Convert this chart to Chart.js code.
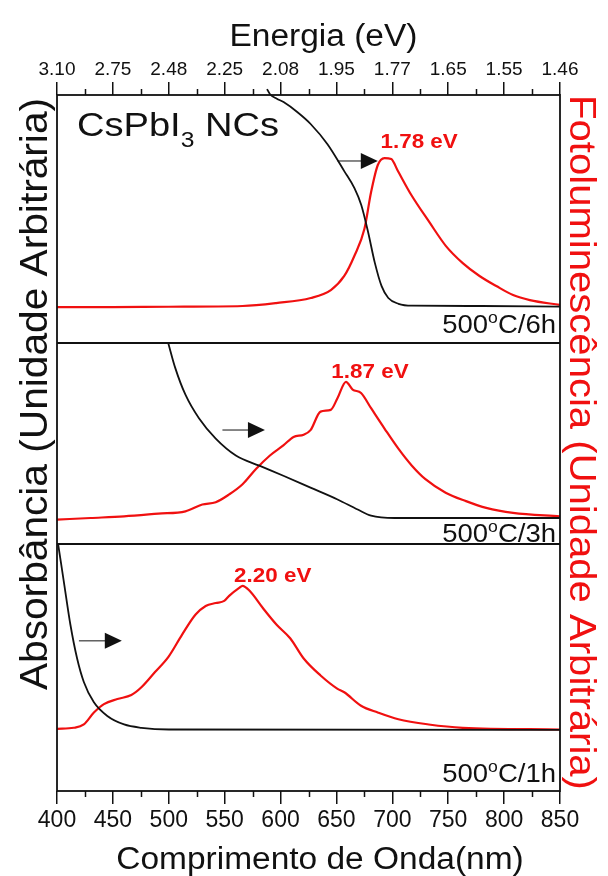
<!DOCTYPE html>
<html>
<head>
<meta charset="utf-8">
<script src="https://cdn.jsdelivr.net/npm/chart.js@4.4.1/dist/chart.umd.min.js"></script>
<style>
  html, body { margin: 0; padding: 0; background: #fff; }
  #wrap { width: 608px; height: 876px; }
</style>
</head>
<body>
<div id="wrap"><canvas id="spectra" width="608" height="876"></canvas></div>
<script>
// Wavelength ticks (nm) and the matching energy labels on the top axis (eV)
const wlTicks = [400, 450, 500, 550, 600, 650, 700, 750, 800, 850];
const energyLabels = ['3.10', '2.75', '2.48', '2.25', '2.08', '1.95', '1.77', '1.65', '1.55', '1.46'];

// 500 oC / 6h
const absWl6h = [587.9, 590.6, 596.7, 602.7, 614.9, 626.9, 642, 657.1, 666.1, 672.2, 678.3, 684.3, 690.4, 696.4, 705.5, 717.5, 780, 850];
const abs6h = [1.466, 1.431, 1.401, 1.378, 1.311, 1.23, 1.093, 0.91, 0.796, 0.682, 0.5, 0.293, 0.134, 0.054, 0.015, 0.002, 0, -0.004];
const plWl6h = [400, 450, 500, 566, 596, 627, 645, 657, 666, 675, 681, 687, 693, 699, 705, 717, 733, 748, 763, 778, 793, 808, 823, 850];
const pl6h = [-0.008, -0.007, -0.005, 0, 0.02, 0.054, 0.108, 0.203, 0.338, 0.52, 0.77, 0.953, 1.0, 0.993, 0.912, 0.75, 0.568, 0.405, 0.29, 0.203, 0.135, 0.074, 0.04, 0.007];

// 500 oC / 3h
const absWl3h = [499.5, 505.7, 514.9, 527, 542, 560, 581, 602.5, 626.8, 651, 669, 681, 702, 850];
const abs3h = [1.285, 1.104, 0.905, 0.732, 0.583, 0.459, 0.384, 0.31, 0.223, 0.136, 0.062, 0.017, 0, 0];
const plWl3h = [400, 430, 460, 490.6, 514.9, 530, 542, 554, 566, 578, 590.5, 602.5, 611.6, 620.7, 626.8, 635.8, 644.9, 651, 658.5, 664.5, 672, 681, 693, 705.4, 717.5, 729.6, 747.7, 765.9, 784, 808, 850];
const pl3h = [-0.012, 0, 0.012, 0.032, 0.049, 0.099, 0.116, 0.173, 0.248, 0.36, 0.459, 0.533, 0.595, 0.612, 0.645, 0.781, 0.794, 0.881, 1.0, 0.943, 0.918, 0.806, 0.657, 0.509, 0.384, 0.285, 0.186, 0.124, 0.074, 0.037, 0.012];

// 500 oC / 1h
const absWl1h = [401, 406, 412, 418, 424, 433, 445, 460, 475.5, 500, 850];
const abs1h = [1.29, 1.035, 0.729, 0.494, 0.331, 0.189, 0.094, 0.035, 0.012, 0, -0.003];
const plWl1h = [400, 415, 424, 433, 442, 454, 466.5, 475.5, 487.7, 499.7, 511.8, 524, 533, 542, 549.6, 554, 563, 566, 572.3, 584, 596.5, 608.6, 620.7, 635.8, 651, 657, 672, 687, 705.4, 732.6, 763, 850];
const pl1h = [0.005, 0.012, 0.035, 0.118, 0.177, 0.212, 0.24, 0.294, 0.4, 0.506, 0.659, 0.8, 0.86, 0.88, 0.895, 0.93, 0.985, 1.0, 0.965, 0.847, 0.729, 0.635, 0.494, 0.376, 0.283, 0.259, 0.165, 0.118, 0.071, 0.035, 0.012, 0];

const peakLabels = ['1.78 eV', '1.87 eV', '2.20 eV'];
const sampleTimes = ['6h', '3h', '1h'];

const SANS = "'Liberation Sans', Arial, sans-serif";
const RED = '#f01010';
const INK = '#111';

// one stacked y axis per panel, top to bottom
const panels = [
  { id: 'yTop', weight: 248, min: -0.25, max: 1.426, peakAt: [724, 1.068], arrow: [651, 687, 0.98], sampleY: -0.182 },
  { id: 'yMid', weight: 201, min: -0.191, max: 1.285, peakAt: [680, 1.028], arrow: [548, 586, 0.646], sampleY: -0.173 },
  { id: 'yBot', weight: 247, min: -0.428, max: 1.291, peakAt: [593, 1.024], arrow: [419.6, 458, 0.617], sampleY: -0.362 }
];

const toPoints = (xs, ys) => xs.map((x, i) => ({ x: x, y: ys[i] }));

function curve(xs, ys, color, width, axis, extra) {
  return Object.assign({
    data: toPoints(xs, ys),
    yAxisID: axis,
    borderColor: color,
    borderWidth: width,
    pointRadius: 0,
    cubicInterpolationMode: 'monotone',
    fill: false
  }, extra || {});
}

function drawText(ctx, str, x, y, o) {
  ctx.save();
  ctx.translate(x, y);
  if (o.rotate) ctx.rotate(o.rotate);
  ctx.scale(o.sx || 1, o.sy || 1);
  ctx.font = (o.bold ? 'bold ' : '') + o.size + 'px ' + SANS;
  ctx.fillStyle = o.color || INK;
  ctx.textAlign = o.align || 'left';
  ctx.textBaseline = 'alphabetic';
  ctx.fillText(str, 0, 0);
  ctx.restore();
}

function textWidth(ctx, str, size) {
  ctx.font = size + 'px ' + SANS;
  return ctx.measureText(str).width;
}

// "500oC/xh" with a raised small o, right aligned
function drawSample(ctx, time, xRight, yBase) {
  const size = 25, sup = 16, sx = 1.1;
  const w1 = textWidth(ctx, '500', size), w2 = textWidth(ctx, 'o', sup), w3 = textWidth(ctx, 'C/' + time, size);
  let x = xRight - (w1 + w2 + w3) * sx;
  drawText(ctx, '500', x, yBase, { size: size, sx: sx }); x += w1 * sx;
  drawText(ctx, 'o', x, yBase - 10, { size: sup, sx: sx }); x += w2 * sx;
  drawText(ctx, 'C/' + time, x, yBase, { size: size, sx: sx });
}

function drawArrow(ctx, x0, x1, y) {
  ctx.save();
  ctx.strokeStyle = INK; ctx.fillStyle = INK; ctx.lineWidth = 1;
  ctx.beginPath(); ctx.moveTo(x0, y); ctx.lineTo(x1 - 16, y); ctx.stroke();
  ctx.beginPath(); ctx.moveTo(x1, y); ctx.lineTo(x1 - 17, y - 8); ctx.lineTo(x1 - 17, y + 8); ctx.closePath(); ctx.fill();
  ctx.restore();
}

const decor = {
  id: 'decor',
  afterDatasetsDraw(chart) {
    const { ctx, chartArea: a, scales } = chart;
    const xs = scales.x;
    ctx.save();
    ctx.strokeStyle = INK;
    ctx.lineWidth = 1.8;
    ctx.strokeRect(a.left, a.top, a.right - a.left, a.bottom - a.top);
    // panel separators
    ['yMid', 'yBot'].forEach(id => {
      const y = Math.round(scales[id].top);
      ctx.beginPath(); ctx.moveTo(a.left, y); ctx.lineTo(a.right, y); ctx.stroke();
    });
    // minor ticks between the labelled ones
    ctx.lineWidth = 1.5;
    for (let i = 0; i < wlTicks.length - 1; i++) {
      const px = Math.round(xs.getPixelForValue((wlTicks[i] + wlTicks[i + 1]) / 2)) + 0.5;
      ctx.beginPath();
      ctx.moveTo(px, a.bottom); ctx.lineTo(px, a.bottom + 6);
      ctx.moveTo(px, a.top); ctx.lineTo(px, a.top - 6);
      ctx.stroke();
    }
    ctx.restore();

    panels.forEach((p, i) => {
      const ys = scales[p.id];
      drawText(ctx, peakLabels[i], xs.getPixelForValue(p.peakAt[0]), ys.getPixelForValue(p.peakAt[1]),
        { size: 20, bold: true, color: RED, align: 'center', sx: 1.12 });
      drawArrow(ctx, xs.getPixelForValue(p.arrow[0]), xs.getPixelForValue(p.arrow[1]), ys.getPixelForValue(p.arrow[2]));
      drawSample(ctx, sampleTimes[i], a.right - 4, ys.getPixelForValue(p.sampleY));
    });

    // sample name
    let x = 77;
    drawText(ctx, 'CsPbI', x, 136, { size: 34, sx: 1.12 }); x += textWidth(ctx, 'CsPbI', 34) * 1.12;
    drawText(ctx, '3', x, 147, { size: 22, sx: 1.12 }); x += textWidth(ctx, '3', 22) * 1.12;
    drawText(ctx, ' NCs', x, 136, { size: 34, sx: 1.12 });

    // axis titles
    drawText(ctx, 'Comprimento de Onda(nm)', 320, 869, { size: 31, sx: 1.08, align: 'center' });
    drawText(ctx, 'Energia (eV)', 323.5, 46, { size: 31, sx: 1.08, align: 'center' });
    drawText(ctx, 'Absorbância (Unidade Arbitrária)', 47, 394, { size: 38, sx: 1.07, align: 'center', rotate: -Math.PI / 2 });
    drawText(ctx, 'Fotoluminescência (Unidade Arbitrária)', 570, 442.5, { size: 37, sx: 1.083, align: 'center', rotate: Math.PI / 2, color: RED });
  }
};

const yScales = {};
panels.forEach((p, i) => {
  yScales[p.id] = {
    type: 'linear', display: false, position: 'left',
    stack: 'panels', stackWeight: p.weight, weight: panels.length - i,
    min: p.min, max: p.max
  };
});

new Chart(document.getElementById('spectra').getContext('2d'), {
  type: 'line',
  data: {
    datasets: [
      curve(absWl6h, abs6h, INK, 1.8, 'yTop', { clip: false }),
      curve(plWl6h, pl6h, RED, 2.2, 'yTop'),
      curve(absWl3h, abs3h, INK, 1.8, 'yMid'),
      curve(plWl3h, pl3h, RED, 2.2, 'yMid'),
      curve(absWl1h, abs1h, INK, 1.8, 'yBot'),
      curve(plWl1h, pl1h, RED, 2.2, 'yBot')
    ]
  },
  options: {
    responsive: false,
    animation: false,
    devicePixelRatio: 1,
    layout: { padding: { left: 57, right: 48, top: 0, bottom: 0 } },
    plugins: { legend: { display: false }, tooltip: { enabled: false } },
    scales: Object.assign({
      x: {
        type: 'linear', position: 'bottom', min: 400, max: 850,
        ticks: { stepSize: 50, autoSkip: false, maxRotation: 0, padding: 3, color: INK, font: { family: SANS, size: 23 } },
        grid: { drawOnChartArea: false, tickLength: 13, lineWidth: 1.5, color: INK },
        border: { display: false },
        afterFit: s => { s.height = 85; }
      },
      x2: {
        type: 'linear', position: 'top', min: 400, max: 850,
        ticks: { stepSize: 50, autoSkip: false, maxRotation: 0, padding: 1, color: INK, font: { family: SANS, size: 19 },
          callback: (v, i) => energyLabels[i] },
        grid: { drawOnChartArea: false, tickLength: 13, lineWidth: 1.5, color: INK },
        border: { display: false },
        afterFit: s => { s.height = 95; }
      }
    }, yScales)
  },
  plugins: [decor]
});
</script>
</body>
</html>
